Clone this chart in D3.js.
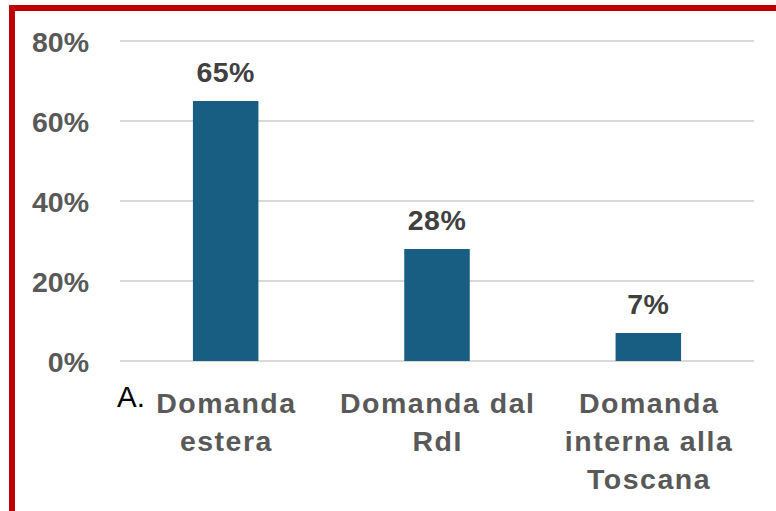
<!DOCTYPE html>
<html>
<head>
<meta charset="utf-8">
<script src="https://cdn.jsdelivr.net/npm/d3@7"></script>
<style>
  html, body { margin: 0; padding: 0; background: #fff; }
  svg { display: block; }
</style>
</head>
<body>
<svg id="chart" width="776" height="511"></svg>
<script>
const categories = [["Domanda", "estera"], ["Domanda dal", "RdI"], ["Domanda", "interna alla", "Toscana"]];
const values = [65, 28, 7];
const valueLabels = ["65%", "28%", "7%"];
const yTicks = [0, 20, 40, 60, 80];
const tickLabels = ["0%", "20%", "40%", "60%", "80%"];

const svg = d3.select("#chart");
const W = 776, H = 511;
const font = "'Liberation Sans', Arial, sans-serif";

const x = d3.scaleBand().domain(d3.range(categories.length)).range([120, 754]).paddingInner(0.69).paddingOuter(0.345);
const y = d3.scaleLinear().domain([0, 80]).range([361, 41]);

// gridlines
svg.append("g").selectAll("line").data(yTicks).join("line")
  .attr("x1", 120).attr("x2", 754)
  .attr("y1", d => y(d)).attr("y2", d => y(d))
  .attr("stroke", "#D9D9D9").attr("stroke-width", 2);

// y tick labels
svg.append("g").selectAll("text").data(yTicks).join("text")
  .attr("x", 89).attr("y", d => y(d) + 10.5)
  .attr("text-anchor", "end")
  .attr("font-family", font).attr("font-weight", "bold").attr("font-size", 28.5)
  .attr("fill", "#595959")
  .text((d, i) => tickLabels[i]);

// bars
svg.append("g").selectAll("rect").data(values).join("rect")
  .attr("x", (d, i) => x(i)).attr("width", x.bandwidth())
  .attr("y", d => y(d)).attr("height", d => y(0) - y(d))
  .attr("fill", "#185E82");

// value labels
svg.append("g").selectAll("text").data(values).join("text")
  .attr("x", (d, i) => x(i) + x.bandwidth() / 2)
  .attr("y", d => y(d) - 19)
  .attr("text-anchor", "middle")
  .attr("font-family", font).attr("font-weight", "bold").attr("font-size", 28.5)
  .attr("letter-spacing", 0.5)
  .attr("fill", "#404040")
  .text((d, i) => valueLabels[i]);

// category labels
const catG = svg.append("g");
categories.forEach((lines, i) => {
  const t = catG.append("text")
    .attr("text-anchor", "middle")
    .attr("font-family", font).attr("font-weight", "bold").attr("font-size", 28.5)
    .attr("letter-spacing", 1.5)
    .attr("fill", "#595959");
  lines.forEach((ln, j) => {
    t.append("tspan").attr("x", x(i) + x.bandwidth() / 2 + 0.75).attr("y", 413 + j * 38).text(ln);
  });
});

// "A." marker
svg.append("text").attr("x", 117).attr("y", 407)
  .attr("font-family", font).attr("font-size", 29.5).attr("fill", "#000")
  .text("A.");

// red frame (top and left visible)
svg.append("rect").attr("x", 12).attr("y", 8).attr("width", W + 20).attr("height", H + 20)
  .attr("fill", "none").attr("stroke", "#C00000").attr("stroke-width", 6);
</script>
</body>
</html>
